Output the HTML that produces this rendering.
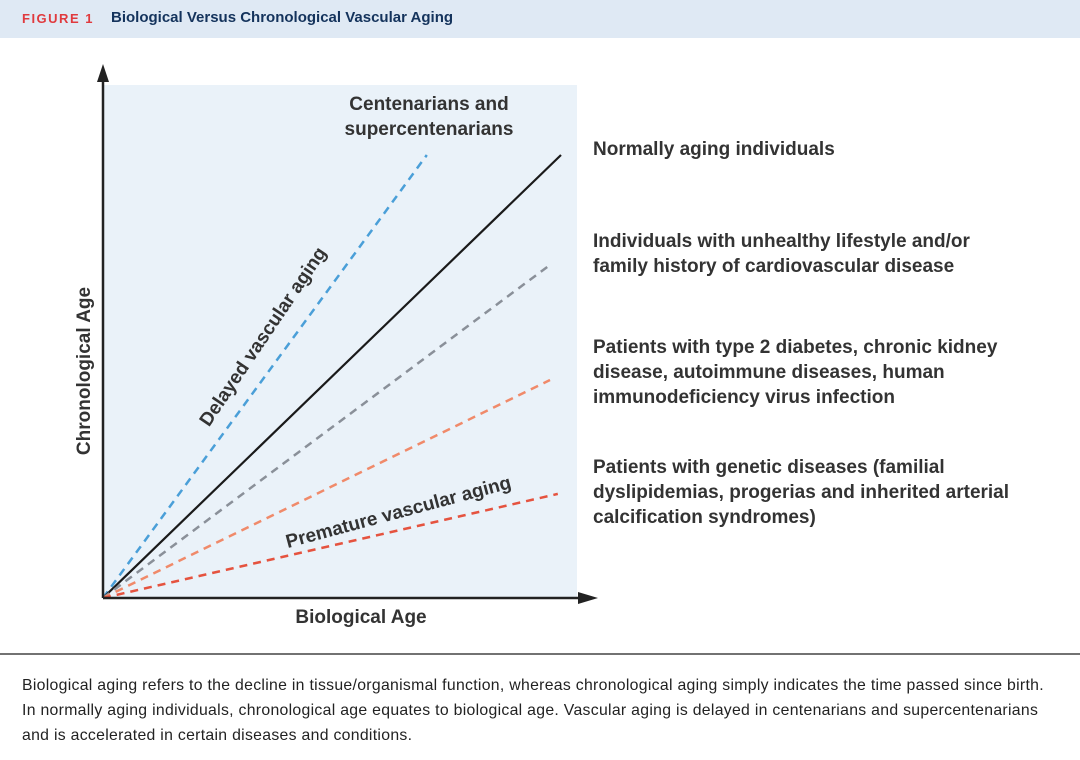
<!DOCTYPE html>
<html><head><meta charset="utf-8"><style>
body{margin:0;width:1080px;height:760px;background:#fff;font-family:"Liberation Sans",sans-serif;overflow:hidden;position:relative}
.hdr{position:absolute;left:0;top:0;width:1080px;height:38px;background:#dfe9f4}
.hdr span{position:absolute;top:9px;font-weight:bold;font-size:15px}
.lab{position:absolute;left:593px;font-size:19px;font-weight:bold;color:#333;line-height:25px}
.cap{position:absolute;left:22px;top:673px;font-size:15.8px;letter-spacing:0.3px;color:#222;line-height:25px;width:1058px;white-space:nowrap}
</style></head><body>
<div class="hdr">
<span style="left:22px;color:#e03a3e;letter-spacing:1.5px;font-size:13px;top:11px">FIGURE 1</span>
<span style="left:111px;color:#14335c">Biological Versus Chronological Vascular Aging</span>
</div>
<svg id="chart" width="1080" height="760" style="position:absolute;left:0;top:0">
<rect x="103" y="85" width="474" height="513" fill="#eaf2f9"/>
<g id="lines"></g>
<line x1="103" y1="598" x2="103" y2="78" stroke="#222" stroke-width="2.5"/>
<polygon points="97,82 109,82 103,64" fill="#222"/>
<line x1="103" y1="598" x2="585" y2="598" stroke="#222" stroke-width="2.5"/>
<polygon points="578,592 578,604 598,598" fill="#222"/>
<text x="361" y="623" text-anchor="middle" font-size="19" font-weight="bold" fill="#333">Biological Age</text>
<text transform="translate(90,371) rotate(-90)" text-anchor="middle" font-size="19" font-weight="bold" fill="#333">Chronological Age</text>
<text x="429" y="110" text-anchor="middle" font-size="19" font-weight="bold" fill="#333"><tspan x="429">Centenarians and</tspan><tspan x="429" dy="25">supercentenarians</tspan></text>
<text transform="translate(268,340) rotate(-56)" text-anchor="middle" font-size="19" font-weight="bold" fill="#333">Delayed vascular aging</text>
<text transform="translate(400,518) rotate(-15)" text-anchor="middle" font-size="19" font-weight="bold" fill="#333">Premature vascular aging</text>
<line x1="0" y1="654" x2="1080" y2="654" stroke="#444" stroke-width="1.5"/>
</svg>
<div class="lab" style="top:137px">Normally aging individuals</div>
<div class="lab" style="top:229px">Individuals with unhealthy lifestyle and/or<br>family history of cardiovascular disease</div>
<div class="lab" style="top:335px">Patients with type 2 diabetes, chronic kidney<br>disease, autoimmune diseases, human<br>immunodeficiency virus infection</div>
<div class="lab" style="top:455px">Patients with genetic diseases (familial<br>dyslipidemias, progerias and inherited arterial<br>calcification syndromes)</div>
<div class="cap">Biological aging refers to the decline in tissue/organismal function, whereas chronological aging simply indicates the time passed since birth.<br>In normally aging individuals, chronological age equates to biological age. Vascular aging is delayed in centenarians and supercentenarians<br>and is accelerated in certain diseases and conditions.</div>
<script>
const seriesNames=["centenarians","normal","lifestyle","diseases","genetic"];
const endBio=[70.7,100,97.6,97.6,99.3];
const endChrono=[100,100,75.2,49.2,23.5];
const colors=["#4a9fd8","#1a1a1a","#8a9099","#f08a6a","#e5533f"];
const dashed=[true,false,true,true,true];
function xs(v){return 103+v*4.58;}
function ys(v){return 598-v*4.43;}
const g=document.getElementById('lines');
for(let i=0;i<seriesNames.length;i++){
 const l=document.createElementNS('http://www.w3.org/2000/svg','line');
 l.setAttribute('x1',xs(0));l.setAttribute('y1',ys(0));
 l.setAttribute('x2',xs(endBio[i]));l.setAttribute('y2',ys(endChrono[i]));
 l.setAttribute('stroke',colors[i]);l.setAttribute('stroke-width',dashed[i]?2.5:2.2);
 if(dashed[i])l.setAttribute('stroke-dasharray','8 6');
 
 
 g.appendChild(l);
}
</script>
</body></html>
